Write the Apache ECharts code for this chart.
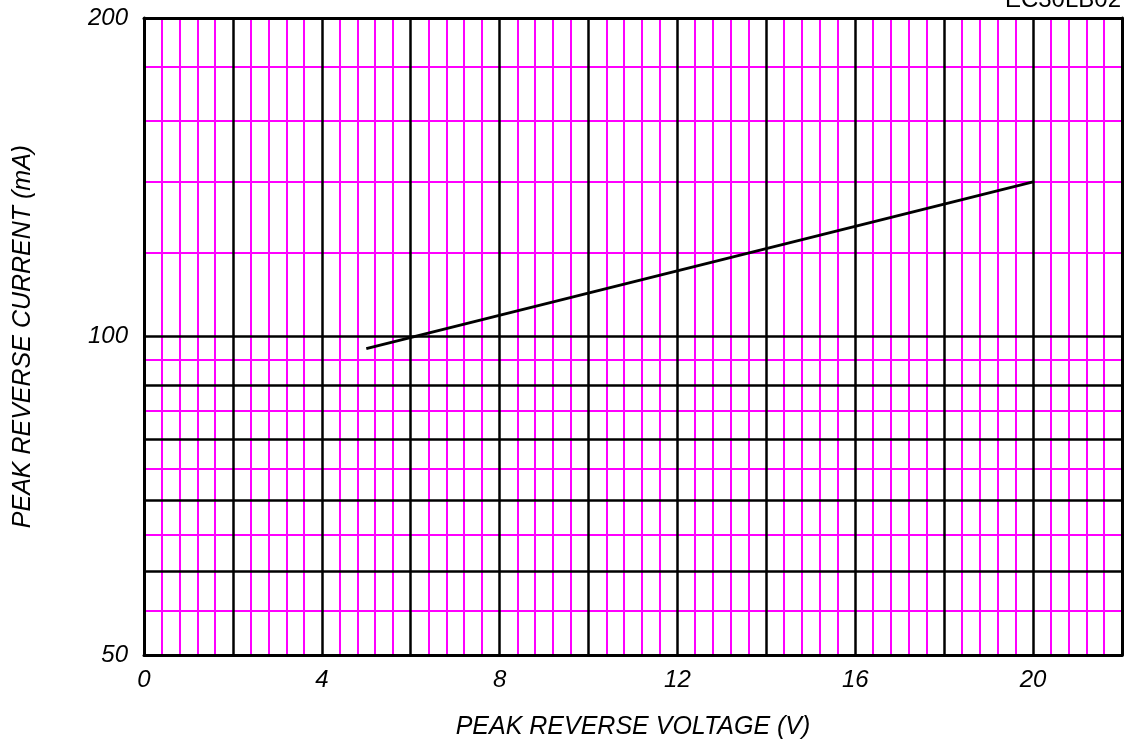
<!DOCTYPE html>
<html>
<head>
<meta charset="utf-8">
<script src="https://cdn.jsdelivr.net/npm/echarts@6/dist/echarts.min.js"></script>
<style>
  html, body { margin: 0; padding: 0; background: #fff; }
  #chart { width: 1127px; height: 745px; }
</style>
</head>
<body>
<div id="chart"></div>
<script>
// curve: peak reverse voltage (V) vs peak reverse current (mA)
var curve = [[5, 97.4], [20, 140]];

// grid lines
var xMajor = [2, 4, 6, 8, 10, 12, 14, 16, 18, 20];
var xMinor = [0.4, 0.8, 1.2, 1.6, 2.4, 2.8, 3.2, 3.6, 4.4, 4.8, 5.2, 5.6,
  6.4, 6.8, 7.2, 7.6, 8.4, 8.8, 9.2, 9.6, 10.4, 10.8, 11.2, 11.6,
  12.4, 12.8, 13.2, 13.6, 14.4, 14.8, 15.2, 15.6, 16.4, 16.8, 17.2, 17.6,
  18.4, 18.8, 19.2, 19.6, 20.4, 20.8, 21.2, 21.6];
var yMajor = [60, 70, 80, 90, 100];
var yMinor = [55, 65, 75, 85, 95, 120, 140, 160, 180];
var xLabels = [0, 4, 8, 12, 16, 20];

var FONT = 'Liberation Sans, Arial, sans-serif';

function vLines(list) {
  return list.map(function (v) { return { xAxis: v }; });
}
function hLines(list) {
  return list.map(function (v) { return { yAxis: v }; });
}
function gridSeries(data, color, width, z) {
  return {
    type: 'line',
    data: [],
    z: z,
    silent: true,
    markLine: {
      silent: true,
      symbol: ['none', 'none'],
      label: { show: false },
      lineStyle: { color: color, width: width, type: 'solid' },
      emphasis: { disabled: true },
      data: data
    }
  };
}

var myChart = echarts.init(document.getElementById('chart'));
var option = {
  animation: false,
  backgroundColor: '#fff',
  title: {
    text: 'EC30LB02',
    right: 6,
    top: -12,
    padding: 0,
    textStyle: { fontFamily: FONT, fontSize: 24, fontWeight: 'normal', color: '#000' }
  },
  grid: { left: 144, right: 5, top: 18, bottom: 89 },
  xAxis: [{
    type: 'value',
    min: 0,
    max: 22,
    interval: 4,
    z: 10,
    name: 'PEAK REVERSE VOLTAGE (V)',
    nameLocation: 'middle',
    nameGap: 60,
    nameTextStyle: { fontFamily: FONT, fontSize: 25, fontStyle: 'italic', color: '#000' },
    axisLine: { show: true, lineStyle: { color: '#000', width: 3 } },
    axisTick: { show: false },
    splitLine: { show: false },
    axisLabel: {
      fontFamily: FONT, fontSize: 24, fontStyle: 'italic', color: '#000', margin: 13,
      formatter: function (v) { return xLabels.indexOf(v) >= 0 ? String(v) : ''; }
    }
  }, {
    type: 'value',
    position: 'top',
    min: 0,
    max: 22,
    z: 10,
    axisLine: { show: true, onZero: false, lineStyle: { color: '#000', width: 3 } },
    axisTick: { show: false },
    axisLabel: { show: false },
    splitLine: { show: false }
  }],
  yAxis: [{
    type: 'log',
    logBase: 10,
    min: 50,
    max: 200,
    z: 10,
    name: 'PEAK REVERSE CURRENT (mA)',
    nameLocation: 'middle',
    nameGap: 108,
    nameTextStyle: { fontFamily: FONT, fontSize: 25, fontStyle: 'italic', color: '#000' },
    axisLine: { show: true, lineStyle: { color: '#000', width: 3 } },
    axisTick: { show: false },
    splitLine: { show: false },
    axisLabel: { fontFamily: FONT, fontSize: 24, fontStyle: 'italic', color: '#000', margin: 16 }
  }, {
    type: 'log',
    logBase: 10,
    position: 'right',
    min: 50,
    max: 200,
    z: 10,
    axisLine: { show: true, onZero: false, lineStyle: { color: '#000', width: 3 } },
    axisTick: { show: false },
    axisLabel: { show: false },
    splitLine: { show: false }
  }],
  series: [
    gridSeries(vLines(xMinor).concat(hLines(yMinor)), '#ff00ff', 2, 1),
    gridSeries(vLines(xMajor).concat(hLines(yMajor)), '#000', 2.5, 2),
    {
      type: 'line',
      z: 5,
      data: curve,
      symbol: 'none',
      silent: true,
      lineStyle: { color: '#000', width: 3 }
    }
  ]
};
myChart.setOption(option);
</script>
</body>
</html>
